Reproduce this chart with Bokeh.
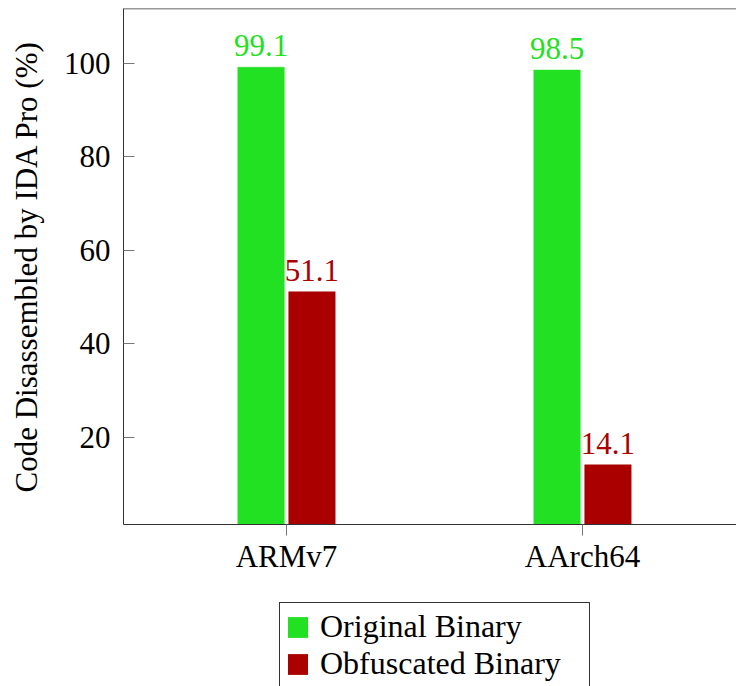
from bokeh.plotting import figure
from bokeh.layouts import column
from bokeh.models import (Range1d, FixedTicker, Legend, LegendItem, Span,
                          ColumnDataSource, LabelSet)
from bokeh.embed import file_html
from bokeh.resources import INLINE

categories = ["ARMv7", "AArch64"]
original = [99.1, 98.5]
obfuscated = [51.1, 14.1]
y_ticks = [20, 40, 60, 80, 100]
series_names = ["Original Binary", "Obfuscated Binary"]

GREEN = "#22e022"
RED = "#aa0000"
FONT = "Liberation Serif"
FS = "31px"

idx = list(range(len(categories)))
bar_w = 0.157
off = 0.086

p = figure(width=736, height=590, output_backend="svg", toolbar_location=None,
           x_range=Range1d(-0.5507, 1.5203), y_range=Range1d(1.35, 111.65),
           min_border_left=123, min_border_right=0, min_border_top=8,
           min_border_bottom=66)
p.outline_line_color = None
p.xgrid.visible = False
p.ygrid.visible = False
p.background_fill_color = "white"
p.border_fill_color = "white"

src_o = ColumnDataSource(dict(x=[i - off for i in idx], top=original,
                              lab=[f"{v:.1f}" for v in original]))
src_b = ColumnDataSource(dict(x=[i + off for i in idx], top=obfuscated,
                              lab=[f"{v:.1f}" for v in obfuscated]))

r1 = p.vbar(x="x", top="top", bottom=0, width=bar_w, source=src_o,
            fill_color=GREEN, line_color=GREEN, line_width=0.5)
r2 = p.vbar(x="x", top="top", bottom=0, width=bar_w, source=src_b,
            fill_color=RED, line_color=RED, line_width=0.5)

for src, col in ((src_o, GREEN), (src_b, RED)):
    p.add_layout(LabelSet(x="x", y="top", text="lab", source=src,
                          text_align="center", text_baseline="alphabetic",
                          y_offset=11, text_color=col, text_font=FONT,
                          text_font_size=FS))

# top frame line
p.add_layout(Span(location=111.65, dimension="width", line_color="#333333",
                  line_width=1.5))

# x axis
xa = p.xaxis[0]
xa.ticker = FixedTicker(ticks=idx)
xa.major_label_overrides = {i: c for i, c in zip(idx, categories)}
xa.major_tick_in = 0
xa.major_tick_out = 11
xa.major_tick_line_color = "#777777"
xa.minor_tick_line_color = None
xa.axis_line_color = "#333333"
xa.major_label_text_font = FONT
xa.major_label_text_font_size = FS
xa.major_label_text_color = "black"
xa.major_label_standoff = 3

# y axis
ya = p.yaxis[0]
ya.ticker = FixedTicker(ticks=y_ticks)
ya.major_tick_in = 11
ya.major_tick_out = 0
ya.major_tick_line_color = "#777777"
ya.minor_tick_line_color = None
ya.axis_line_color = "#333333"
ya.major_label_text_font = FONT
ya.major_label_text_font_size = FS
ya.major_label_text_color = "black"
ya.major_label_standoff = 13
ya.axis_label = "Code Disassembled by IDA Pro (%)"
ya.axis_label_text_font = FONT
ya.axis_label_text_font_size = FS
ya.axis_label_text_font_style = "normal"
ya.axis_label_text_color = "black"
ya.axis_label_standoff = 17

# legend strip below (its own figure; its bar renderers are hidden)
p2 = figure(width=736, height=96, output_backend="svg", toolbar_location=None,
            x_range=Range1d(-0.5507, 1.5203), y_range=Range1d(-300, -200),
            x_axis_type=None, y_axis_type=None, min_border=0)
p2.outline_line_color = None
p2.xgrid.visible = False
p2.ygrid.visible = False
p2.background_fill_color = "white"
p2.border_fill_color = "white"
l1 = p2.vbar(x="x", top="top", bottom=0, width=bar_w, source=src_o,
             fill_color=GREEN, line_color=None, visible=False)
l2 = p2.vbar(x="x", top="top", bottom=0, width=bar_w, source=src_b,
             fill_color=RED, line_color=None, visible=False)

legend = Legend(items=[LegendItem(label=series_names[0], renderers=[l1]),
                       LegendItem(label=series_names[1], renderers=[l2])],
                location=(156, -2), orientation="vertical",
                label_text_font=FONT, label_text_font_size="32px",
                label_text_color="black",
                glyph_width=25, glyph_height=26, label_height=36,
                label_width=264, label_standoff=10, spacing=0, padding=5,
                border_line_color="#333333", border_line_width=1,
                border_line_alpha=1.0,
                background_fill_color="white", background_fill_alpha=1.0,
                inactive_fill_alpha=0.0,
                margin=0)
p2.add_layout(legend)

layout = column(p, p2, spacing=0)
open("out.html", "w").write(file_html(layout, INLINE))
